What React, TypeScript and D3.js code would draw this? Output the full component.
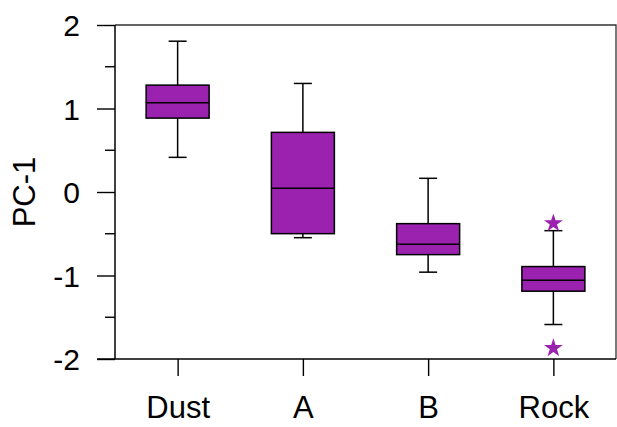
import React, { useEffect, useRef } from "react";
import * as d3 from "d3";

const groups = ["Dust", "A", "B", "Rock"];
const whiskerLow = [0.415, -0.547, -0.96, -1.587];
const q1 = [0.885, -0.499, -0.75, -1.188];
const median = [1.068, 0.044, -0.626, -1.056];
const q3 = [1.28, 0.714, -0.379, -0.893];
const whiskerHigh = [1.806, 1.3, 0.164, -0.463];
const outlierGroup = ["Rock", "Rock"];
const outlierValue = [-0.375, -1.87];
const majorTicks = [-2, -1, 0, 1, 2];
const minorTicks = [-1.5, -0.5, 0.5, 1.5];

export default function App() {
  const svgRef = useRef<SVGSVGElement>(null);

  useEffect(() => {
    const svg = d3.select(svgRef.current);
    svg.selectAll("*").remove();
    const width = 617;
    const height = 427;
    const left = 115;
    const right = 616;
    const top = 25;
    const bottom = 359;
    const fill = "#9B21AF";
    const font = "Arial, 'Liberation Sans', sans-serif";

    const x = d3.scalePoint().domain(groups).range([left, right]).padding(0.5);
    const y = d3.scaleLinear().domain([-2, 2]).range([bottom, top]);
    const boxW = 63;
    const capW = 18;

    // frame top + right
    svg.append("path")
      .attr("d", `M${left},${top}H${right}V${bottom}`)
      .attr("fill", "none")
      .attr("stroke", "#333")
      .attr("stroke-width", 1.3);

    // y axis
    const ya = svg.append("g").attr("transform", `translate(${left},0)`);
    ya.call(d3.axisLeft(y).tickValues(majorTicks).tickSize(18).tickPadding(17).tickFormat((d) => String(d)));
    ya.select(".domain").remove();
    ya.append("line").attr("y1", top).attr("y2", bottom).attr("stroke", "#000").attr("stroke-width", 1.5);
    ya.selectAll(".tick line").attr("stroke-width", 1.4);
    ya.selectAll(".tick text").attr("font-size", 30).attr("font-family", font).attr("fill", "#000").attr("dy", "0.36em");
    ya.selectAll(".minor")
      .data(minorTicks)
      .join("line")
      .attr("class", "minor")
      .attr("x1", -10)
      .attr("x2", 0)
      .attr("y1", (d) => y(d))
      .attr("y2", (d) => y(d))
      .attr("stroke", "#000")
      .attr("stroke-width", 1.4);

    // x axis
    const xa = svg.append("g").attr("transform", `translate(0,${bottom})`);
    xa.call(d3.axisBottom(x).tickSize(17).tickPadding(20));
    xa.select(".domain").remove();
    xa.append("line").attr("x1", left - 18).attr("x2", right).attr("stroke", "#000").attr("stroke-width", 1.5);
    xa.selectAll(".tick line").attr("stroke-width", 1.4);
    xa.selectAll(".tick text").attr("font-size", 31).attr("font-family", font).attr("fill", "#000");

    // y title
    svg.append("text")
      .attr("transform", `translate(35,${(top + bottom) / 2}) rotate(-90)`)
      .attr("text-anchor", "middle")
      .attr("font-size", 31)
      .attr("font-family", font)
      .text("PC-1");

    const boxes = svg.append("g").selectAll("g").data(groups).join("g");
    boxes.each(function (g, i) {
      const cx = x(g)!;
      const s = d3.select(this);
      s.append("line").attr("x1", cx).attr("x2", cx).attr("y1", y(whiskerHigh[i])).attr("y2", y(q3[i]))
        .attr("stroke", "#000").attr("stroke-width", 1.5);
      s.append("line").attr("x1", cx).attr("x2", cx).attr("y1", y(q1[i])).attr("y2", y(whiskerLow[i]))
        .attr("stroke", "#000").attr("stroke-width", 1.5);
      [whiskerHigh[i], whiskerLow[i]].forEach((v) => {
        s.append("line").attr("x1", cx - capW / 2).attr("x2", cx + capW / 2).attr("y1", y(v)).attr("y2", y(v))
          .attr("stroke", "#000").attr("stroke-width", 1.5);
      });
      s.append("rect")
        .attr("x", cx - boxW / 2)
        .attr("width", boxW)
        .attr("y", y(q3[i]))
        .attr("height", y(q1[i]) - y(q3[i]))
        .attr("fill", fill)
        .attr("stroke", "#000")
        .attr("stroke-width", 1.5);
      s.append("line").attr("x1", cx - boxW / 2).attr("x2", cx + boxW / 2).attr("y1", y(median[i])).attr("y2", y(median[i]))
        .attr("stroke", "#000").attr("stroke-width", 1.5);
    });

    const star = d3.symbol().type(d3.symbolStar).size(110);
    svg.append("g")
      .selectAll("path")
      .data(outlierValue)
      .join("path")
      .attr("d", star)
      .attr("transform", (d, i) => `translate(${x(outlierGroup[i])},${y(d)})`)
      .attr("fill", fill);

    svg.attr("width", width).attr("height", height);
  }, []);

  return (
    <svg ref={svgRef} width={617} height={427} style={{ position: "absolute", left: 0, top: 0 }}></svg>
  );
}
